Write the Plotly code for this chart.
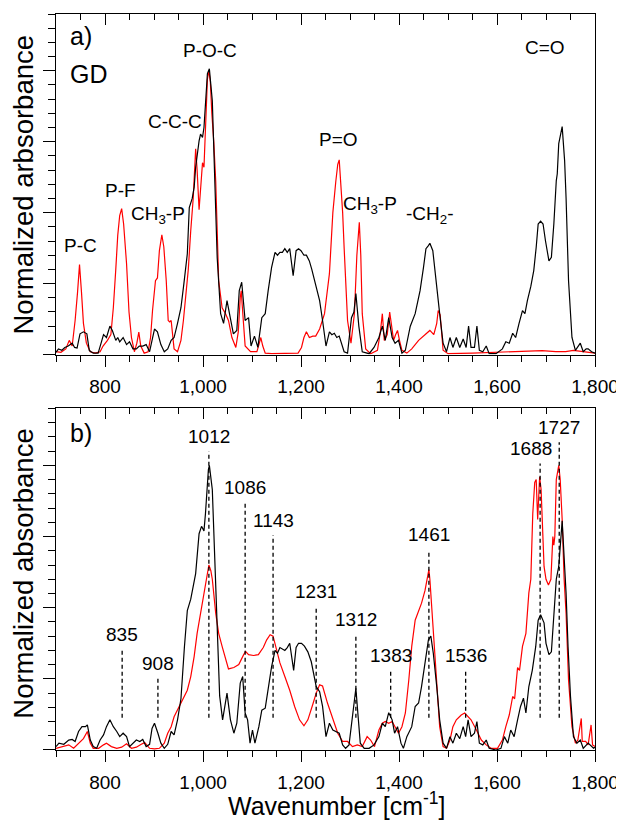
import plotly.graph_objects as go

# ---------------- data ----------------
tick_vals = [800, 1000, 1200, 1400, 1600, 1800]
tick_text = ["800", "1,000", "1,200", "1,400", "1,600", "1,800"]

# panel a) red spectrum
top_red_wn = [700, 710, 720, 727, 733, 739, 744, 748, 752, 756,
              762, 770, 780, 790, 796, 805, 812, 817, 822, 826,
              830, 834, 838, 844, 849, 854, 860, 865, 869, 873,
              880, 888, 893, 897, 903, 907, 911, 916, 920, 925,
              929, 932, 935, 941, 948, 955, 960, 965, 970, 975,
              980, 985, 988, 992, 996, 999, 1002, 1005, 1009, 1012,
              1015, 1018, 1022, 1026, 1029, 1032, 1039, 1046, 1052, 1059,
              1067, 1072, 1076, 1078, 1081, 1086, 1097, 1110, 1115, 1118,
              1122, 1127, 1140, 1160, 1180, 1194, 1201, 1206, 1211, 1217,
              1224, 1230, 1238, 1248, 1258, 1265, 1271, 1275, 1278, 1281,
              1285, 1288, 1295, 1302, 1309, 1314, 1319, 1322, 1325, 1332,
              1342, 1356, 1362, 1366, 1370, 1376, 1381, 1385, 1389, 1393,
              1397, 1401, 1406, 1416, 1426, 1440, 1453, 1463, 1471, 1477,
              1480, 1484, 1490, 1500, 1550, 1600, 1650, 1692, 1720, 1740,
              1756, 1780, 1800]
top_red_abs = [0.01, 0.008, 0.02, 0.05, 0.03, 0.12, 0.22, 0.317, 0.22, 0.11,
               0.04, 0.01, 0.005, 0.01, 0.03, 0.05, 0.07, 0.165, 0.3, 0.42,
               0.49, 0.514, 0.46, 0.32, 0.15, 0.06, 0.01, 0.04, 0.079, 0.03,
               0.005, 0.01, 0.06, 0.155, 0.26, 0.27, 0.366, 0.422, 0.38, 0.26,
               0.12, 0.115, 0.12, 0.02, 0.01, 0.05, 0.12, 0.2, 0.3, 0.437,
               0.55, 0.725, 0.65, 0.51, 0.62, 0.676, 0.66, 0.8, 0.97, 1.0,
               0.96, 0.85, 0.75, 0.61, 0.42, 0.26, 0.165, 0.144, 0.12, 0.06,
               0.025, 0.08, 0.2, 0.225, 0.15, 0.03, 0.01, 0.01, 0.04, 0.06,
               0.03, 0.005, 0.003, 0.003, 0.003, 0.005, 0.025, 0.06, 0.08, 0.06,
               0.065, 0.065, 0.09, 0.144, 0.285, 0.5, 0.61, 0.67, 0.686, 0.62,
               0.5, 0.377, 0.12, 0.04, 0.144, 0.35, 0.466, 0.35, 0.144, 0.02,
               0.003, 0.015, 0.08, 0.144, 0.05, 0.07, 0.15, 0.1, 0.05, 0.07,
               0.085, 0.05, 0.015, 0.005, 0.02, 0.05, 0.07, 0.085, 0.07, 0.11,
               0.155, 0.14, 0.015, 0.003, 0.005, 0.008, 0.012, 0.014, 0.01, 0.01,
               0.015, 0.01, 0.005]

# panel a) black spectrum
top_black_wn = [700, 705, 712, 718, 725, 733, 738, 743, 749, 756,
                763, 768, 776, 786, 792, 797, 803, 810, 815, 822,
                826, 830, 837, 844, 850, 857, 864, 870, 877, 884,
                891, 896, 901, 907, 914, 921, 928, 935, 941, 948,
                955, 961, 968, 972, 978, 982, 985, 992, 995, 999,
                1002, 1009, 1013, 1019, 1025, 1029, 1036, 1042, 1049, 1056,
                1062, 1069, 1074, 1079, 1086, 1093, 1098, 1105, 1112, 1120,
                1127, 1133, 1140, 1147, 1152, 1157, 1162, 1167, 1172, 1177,
                1184, 1190, 1195, 1200, 1206, 1211, 1217, 1222, 1228, 1233,
                1238, 1244, 1251, 1258, 1263, 1268, 1273, 1278, 1288, 1295,
                1303, 1308, 1312, 1318, 1325, 1339, 1349, 1359, 1366, 1372,
                1379, 1386, 1392, 1399, 1406, 1413, 1423, 1433, 1443, 1450,
                1455, 1460, 1463, 1469, 1475, 1483, 1490, 1497, 1504, 1510,
                1517, 1524, 1531, 1537, 1542, 1547, 1554, 1559, 1564, 1571,
                1578, 1584, 1598, 1611, 1618, 1625, 1632, 1638, 1645, 1652,
                1657, 1662, 1669, 1675, 1680, 1684, 1689, 1694, 1699, 1706,
                1711, 1716, 1721, 1723, 1726, 1733, 1738, 1741, 1746, 1753,
                1760, 1765, 1770, 1776, 1782, 1786, 1793, 1800]
top_black_abs = [0.008, 0.02, 0.015, 0.025, 0.03, 0.04, 0.025, 0.023, 0.073, 0.08,
                 0.073, 0.014, 0.005, 0.005, 0.04, 0.07, 0.06, 0.1, 0.085, 0.05,
                 0.06, 0.045, 0.06, 0.035, 0.045, 0.02, 0.02, 0.03, 0.03, 0.035,
                 0.01, 0.05, 0.09, 0.08, 0.035, 0.01, 0.02, 0.05, 0.06, 0.11,
                 0.165, 0.25, 0.355, 0.518, 0.55, 0.59, 0.66, 0.753, 0.777, 0.765,
                 0.8, 0.99, 1.007, 0.894, 0.59, 0.34, 0.144, 0.11, 0.19, 0.12,
                 0.073, 0.085, 0.225, 0.255, 0.12, 0.13, 0.03, 0.065, 0.025, 0.13,
                 0.144, 0.225, 0.307, 0.36, 0.35, 0.36, 0.36, 0.373, 0.36, 0.373,
                 0.278, 0.366, 0.373, 0.366, 0.35, 0.35, 0.33, 0.3, 0.26, 0.225,
                 0.19, 0.12, 0.03, 0.08, 0.07, 0.075, 0.06, 0.065, 0.01, 0.005,
                 0.13, 0.15, 0.215, 0.1, 0.01, 0.003, 0.025, 0.06, 0.1, 0.05,
                 0.13, 0.06, 0.04, 0.05, 0.005, 0.015, 0.1, 0.144, 0.225, 0.307,
                 0.373, 0.384, 0.392, 0.366, 0.26, 0.144, 0.04, 0.01, 0.06, 0.025,
                 0.06, 0.025, 0.055, 0.025, 0.1, 0.025, 0.025, 0.1, 0.015, 0.01,
                 0.03, 0.003, 0.003, 0.02, 0.045, 0.04, 0.075, 0.06, 0.11, 0.155,
                 0.144, 0.19, 0.24, 0.296, 0.378, 0.46, 0.47, 0.46, 0.4, 0.33,
                 0.343, 0.46, 0.613, 0.637, 0.743, 0.803, 0.683, 0.55, 0.26, 0.06,
                 0.015, 0.03, 0.04, 0.01, 0.02, 0.02, 0.01, 0.005]

# panel b) black spectrum
bot_black_wn = [700, 706, 716, 726, 733, 739, 746, 753, 760, 764,
                770, 776, 783, 790, 797, 803, 810, 817, 824, 830,
                837, 844, 850, 857, 864, 871, 877, 884, 891, 896,
                901, 908, 914, 921, 928, 935, 941, 948, 955, 962,
                968, 975, 982, 985, 992, 997, 1002, 1005, 1011, 1013,
                1019, 1022, 1026, 1029, 1034, 1040, 1049, 1056, 1063, 1069,
                1076, 1081, 1086, 1091, 1096, 1101, 1106, 1114, 1120, 1127,
                1133, 1140, 1147, 1152, 1157, 1162, 1167, 1172, 1177, 1185,
                1190, 1195, 1201, 1207, 1214, 1221, 1228, 1231, 1238, 1244,
                1251, 1258, 1265, 1271, 1278, 1285, 1291, 1298, 1305, 1312,
                1316, 1321, 1329, 1339, 1349, 1359, 1366, 1372, 1379, 1386,
                1391, 1397, 1404, 1409, 1416, 1426, 1433, 1440, 1446, 1453,
                1460, 1465, 1470, 1477, 1483, 1490, 1497, 1504, 1510, 1517,
                1524, 1531, 1536, 1541, 1547, 1554, 1559, 1564, 1571, 1578,
                1584, 1598, 1608, 1615, 1622, 1628, 1635, 1642, 1648, 1654,
                1659, 1665, 1672, 1679, 1684, 1689, 1696, 1700, 1706, 1711,
                1716, 1721, 1726, 1733, 1738, 1741, 1745, 1750, 1756, 1763,
                1770, 1776, 1786, 1797, 1800]
bot_black_abs = [0.012, 0.024, 0.02, 0.035, 0.037, 0.03, 0.065, 0.082, 0.082, 0.088,
                 0.035, 0.012, 0.006, 0.035, 0.053, 0.082, 0.106, 0.082, 0.065, 0.047,
                 0.059, 0.047, 0.012, 0.024, 0.035, 0.03, 0.037, 0.012, 0.02, 0.076,
                 0.094, 0.059, 0.024, 0.006, 0.02, 0.065, 0.053, 0.106, 0.18, 0.36,
                 0.49, 0.53, 0.6, 0.62, 0.76, 0.786, 0.77, 0.83, 0.985, 1.0,
                 0.915, 0.775, 0.6, 0.4, 0.19, 0.106, 0.2, 0.106, 0.059, 0.094,
                 0.235, 0.258, 0.13, 0.106, 0.024, 0.07, 0.024, 0.082, 0.14, 0.147,
                 0.21, 0.293, 0.35, 0.34, 0.36, 0.355, 0.35, 0.36, 0.375, 0.28,
                 0.36, 0.375, 0.375, 0.365, 0.345, 0.31, 0.25, 0.223, 0.205, 0.153,
                 0.047, 0.094, 0.07, 0.065, 0.059, 0.018, 0.006, 0.018, 0.117, 0.217,
                 0.13, 0.024, 0.006, 0.006, 0.018, 0.047, 0.094, 0.082, 0.131, 0.106,
                 0.059, 0.082, 0.024, 0.006, 0.047, 0.082, 0.153, 0.165, 0.223, 0.306,
                 0.387, 0.4, 0.34, 0.223, 0.106, 0.024, 0.006, 0.047, 0.024, 0.059,
                 0.04, 0.082, 0.047, 0.106, 0.047, 0.059, 0.1, 0.024, 0.018, 0.035,
                 0.006, 0.0, 0.006, 0.047, 0.024, 0.07, 0.047, 0.106, 0.153, 0.182,
                 0.13, 0.223, 0.28, 0.363, 0.456, 0.475, 0.447, 0.375, 0.335, 0.345,
                 0.456, 0.6, 0.645, 0.805, 0.645, 0.55, 0.363, 0.188, 0.047, 0.024,
                 0.035, 0.006, 0.024, 0.006, 0.01]

# panel b) red spectrum
bot_red_wn = [700, 716, 726, 736, 746, 756, 764, 770, 776, 787,
              797, 803, 813, 824, 834, 844, 854, 864, 874, 881,
              891, 901, 911, 921, 928, 935, 941, 948, 955, 962,
              968, 975, 982, 988, 995, 1002, 1007, 1012, 1016, 1019,
              1026, 1032, 1039, 1046, 1052, 1063, 1073, 1083, 1087, 1093,
              1103, 1113, 1123, 1130, 1137, 1143, 1150, 1157, 1167, 1177,
              1187, 1197, 1206, 1214, 1224, 1231, 1238, 1244, 1254, 1265,
              1275, 1285, 1295, 1305, 1315, 1325, 1335, 1342, 1350, 1359,
              1366, 1372, 1379, 1386, 1392, 1399, 1406, 1413, 1420, 1426,
              1433, 1440, 1446, 1453, 1458, 1461, 1463, 1470, 1477, 1483,
              1490, 1497, 1504, 1510, 1517, 1527, 1534, 1541, 1547, 1558,
              1568, 1578, 1588, 1601, 1611, 1618, 1625, 1632, 1636, 1642,
              1646, 1652, 1659, 1665, 1669, 1673, 1677, 1680, 1683, 1687,
              1690, 1696, 1700, 1705, 1710, 1714, 1716, 1718, 1721, 1726,
              1729, 1733, 1737, 1741, 1746, 1753, 1760, 1765, 1772, 1774,
              1781, 1786, 1792, 1795, 1800]
bot_red_abs = [0.006, 0.012, 0.018, 0.006, 0.024, 0.04, 0.065, 0.024, 0.006, 0.006,
               0.018, 0.024, 0.012, 0.006, 0.01, 0.022, 0.006, 0.01, 0.02, 0.026,
               0.006, 0.004, 0.006, 0.024, 0.059, 0.082, 0.117, 0.14, 0.165, 0.188,
               0.21, 0.258, 0.329, 0.41, 0.48, 0.54, 0.6, 0.65, 0.63, 0.6,
               0.48, 0.41, 0.364, 0.317, 0.285, 0.29, 0.3, 0.335, 0.346, 0.335,
               0.332, 0.335, 0.36, 0.387, 0.405, 0.4, 0.35, 0.306, 0.258, 0.21,
               0.153, 0.106, 0.085, 0.106, 0.16, 0.2, 0.229, 0.225, 0.165, 0.106,
               0.059, 0.03, 0.03, 0.012, 0.018, 0.012, 0.047, 0.035, 0.012, 0.07,
               0.094, 0.1, 0.094, 0.1, 0.082, 0.059, 0.082, 0.13, 0.246, 0.364,
               0.456, 0.49, 0.516, 0.56, 0.6, 0.634, 0.6, 0.42, 0.21, 0.082,
               0.012, 0.006, 0.035, 0.082, 0.106, 0.123, 0.13, 0.117, 0.106, 0.07,
               0.035, 0.018, 0.006, 0.006, 0.035, 0.082, 0.123, 0.188, 0.18, 0.29,
               0.28, 0.364, 0.41, 0.552, 0.6, 0.83, 0.94, 0.95, 0.81, 0.96,
               0.915, 0.645, 0.6, 0.58, 0.6, 0.75, 0.72, 0.75, 0.95, 1.0,
               0.95, 0.81, 0.6, 0.48, 0.246, 0.082, 0.024, 0.035, 0.111, 0.03,
               0.03, 0.018, 0.088, 0.018, 0.012]

# panel a) band assignments
band_labels = ["P-C", "P-F", "CH<sub>3</sub>-P", "C-C-C", "P-O-C",
               "P=O", "CH<sub>3</sub>-P", "-CH<sub>2</sub>-", "C=O"]
band_label_pos = [(751, 0.384), (832, 0.577), (909, 0.49), (943, 0.82), (1014, 1.07),
                  (1277, 0.757), (1341, 0.528), (1463, 0.49), (1697, 1.081)]

# panel b) marked peaks
peak_wn = [835, 908, 1012, 1086, 1143, 1231, 1312, 1383, 1461, 1536, 1688, 1727]
peak_line_top = [0.352, 0.25, 1.049, 0.868, 0.755, 0.503, 0.405, 0.278, 0.704,
                 0.278, 1.007, 1.081]
peak_line_bottom = 0.113

# ---------------- figure ----------------
FONT = "Liberation Sans, Arial, sans-serif"
RED = "#ff0000"
BLACK = "#000000"

fig = go.Figure()
fig.add_trace(go.Scatter(x=top_red_wn, y=top_red_abs, mode="lines",
                         line=dict(color=RED, width=1.2), xaxis="x", yaxis="y"))
fig.add_trace(go.Scatter(x=top_black_wn, y=top_black_abs, mode="lines",
                         line=dict(color=BLACK, width=1.2), xaxis="x", yaxis="y"))
fig.add_trace(go.Scatter(x=bot_red_wn, y=bot_red_abs, mode="lines",
                         line=dict(color=RED, width=1.2), xaxis="x2", yaxis="y2"))
fig.add_trace(go.Scatter(x=bot_black_wn, y=bot_black_abs, mode="lines",
                         line=dict(color=BLACK, width=1.2), xaxis="x2", yaxis="y2"))

dx, dy = [], []
for w, t in zip(peak_wn, peak_line_top):
    dx += [w, w, None]
    dy += [peak_line_bottom, t, None]
fig.add_trace(go.Scatter(x=dx, y=dy, mode="lines",
                         line=dict(color=BLACK, width=1.3, dash="4px,3px"),
                         xaxis="x2", yaxis="y2"))
# carriers for the inside ticks on the top borders
fig.add_trace(go.Scatter(x=[None], y=[None], xaxis="x3", yaxis="y", hoverinfo="skip"))
fig.add_trace(go.Scatter(x=[None], y=[None], xaxis="x4", yaxis="y2", hoverinfo="skip"))

XR = [700, 1800]
YR = [0, 1.2]


def xaxis_main(anchor):
    return dict(anchor=anchor, domain=[0, 1], range=XR, tickmode="array",
                tickvals=tick_vals, ticktext=tick_text, ticks="outside", ticklen=11,
                tickwidth=1, tickcolor=BLACK, showline=True, linecolor=BLACK,
                linewidth=1, mirror=True, showgrid=False, zeroline=False,
                ticklabelstandoff=4, ticklabeloverflow="allow",
                tickfont=dict(family=FONT, size=19, color=BLACK),
                minor=dict(tickmode="linear", tick0=700, dtick=50, ticks="outside",
                           ticklen=6, tickwidth=1, tickcolor=BLACK, showgrid=False))


def xaxis_top(over, anchor):
    return dict(overlaying=over, anchor=anchor, side="top", range=XR, tickmode="array",
                tickvals=tick_vals, ticks="inside", ticklen=11, tickwidth=1,
                tickcolor=BLACK, showticklabels=False, showline=False,
                showgrid=False, zeroline=False,
                minor=dict(tickmode="linear", tick0=700, dtick=50, ticks="inside",
                           ticklen=6, tickwidth=1, tickcolor=BLACK, showgrid=False))


def yaxis_main(anchor, dom):
    return dict(anchor=anchor, domain=dom, range=YR, tickmode="linear", tick0=0,
                dtick=0.25, ticks="outside", ticklen=12, tickwidth=1, tickcolor=BLACK,
                showticklabels=False, showline=True, linecolor=BLACK, linewidth=1,
                mirror=True, showgrid=False, zeroline=False,
                minor=dict(tickmode="linear", tick0=0, dtick=0.05, ticks="outside",
                           ticklen=7, tickwidth=1, tickcolor=BLACK, showgrid=False))


ann = []
for txt, (px, py) in zip(band_labels, band_label_pos):
    ann.append(dict(x=px, y=py, xref="x", yref="y", text=txt, showarrow=False,
                    xanchor="center", yanchor="middle",
                    font=dict(family=FONT, size=19, color=BLACK)))
for w, t in zip(peak_wn, peak_line_top):
    ann.append(dict(x=w, y=t, xref="x2", yref="y2", text=str(w), showarrow=False,
                    xanchor="center", yanchor="middle", yshift=15,
                    xshift=-9 if w == 1688 else 0,
                    font=dict(family=FONT, size=19, color=BLACK)))
ann += [
    dict(x=0.023, y=0.934, xref="x domain", yref="y domain", text="a)",
         xanchor="left", yanchor="middle",
         showarrow=False, font=dict(family=FONT, size=25, color=BLACK)),
    dict(x=0.023, y=0.823, xref="x domain", yref="y domain", text="GD",
         xanchor="left", yanchor="middle",
         showarrow=False, font=dict(family=FONT, size=25, color=BLACK)),
    dict(x=0.023, y=0.927, xref="x2 domain", yref="y2 domain", text="b)",
         xanchor="left", yanchor="middle",
         showarrow=False, font=dict(family=FONT, size=25, color=BLACK)),
    dict(x=-0.0607, y=0.5, xref="paper", yref="y domain", text="Normalized arbsorbance",
         textangle=-90, xanchor="center", yanchor="middle", showarrow=False,
         font=dict(family=FONT, size=27.5, color=BLACK)),
    dict(x=-0.0607, y=0.517, xref="paper", yref="y2 domain", text="Normalized absorbance",
         textangle=-90, xanchor="center", yanchor="middle", showarrow=False,
         font=dict(family=FONT, size=27.5, color=BLACK)),
    dict(x=0.52, y=-0.0963, xref="paper", yref="paper", text="Wavenumber [cm<sup>-1</sup>]",
         xanchor="center", yanchor="bottom", yshift=-1, showarrow=False,
         font=dict(family=FONT, size=25, color=BLACK)),
]

# the page body is offset by 8 px, so the figure fills the rest of the window
fig.update_layout(
    width=616, height=813,
    margin=dict(l=48, r=24, t=5, b=71),
    paper_bgcolor="white", plot_bgcolor="white",
    showlegend=False,
    font=dict(family=FONT, color=BLACK),
    xaxis=xaxis_main("y"),
    yaxis=yaxis_main("x", [0.5373, 1.0]),
    xaxis2=xaxis_main("y2"),
    yaxis2=yaxis_main("x2", [0.0, 0.464]),
    xaxis3=xaxis_top("x", "y"),
    xaxis4=xaxis_top("x2", "y2"),
    annotations=ann,
)

fig.write_html("out.html")
